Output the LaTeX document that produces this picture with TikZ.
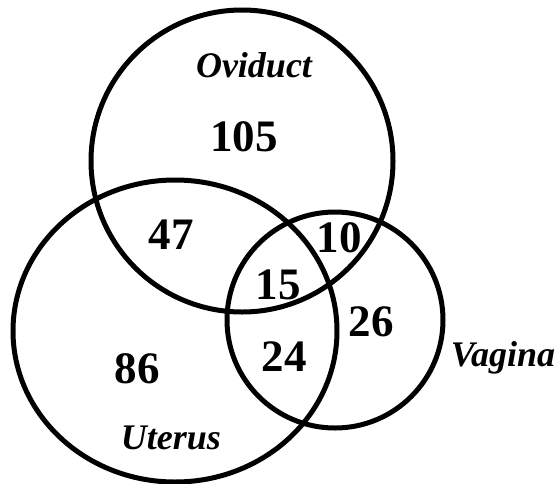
\documentclass[tikz,border=0pt]{standalone}
\usepackage{fontspec}
\setmainfont{Liberation Serif}
\begin{document}
\begin{tikzpicture}[x=1pt,y=-1pt,
  ring/.style={draw=black,line width=5pt},
  num/.style={font=\fontsize{45}{45}\selectfont\bfseries,inner sep=0pt},
  lab/.style={font=\fontsize{36}{36}\selectfont\bfseries\itshape,inner sep=0pt,anchor=base}]
\useasboundingbox (0,0) rectangle (560,483);
\draw[ring] (242,161) circle (151);
\draw[ring] (175,331) ellipse (162 and 151);
\draw[ring] (335,320) circle (108);
\node[lab] (ov) at (254,77) {Oviduct};
\node[lab] (ut) at (171,449) {Uterus};
\node[lab] (va) at (503,366) {Vagina};
\node[num] (n105) at (244,137) {105};
\node[num] (n47) at (171,235) {47};
\node[num] (n10) at (339,238) {10};
\node[num] (n15) at (278,285) {15};
\node[num] (n26) at (371,322) {26};
\node[num] (n24) at (284,357) {24};
\node[num] (n86) at (137,369) {86};
\end{tikzpicture}
\end{document}
